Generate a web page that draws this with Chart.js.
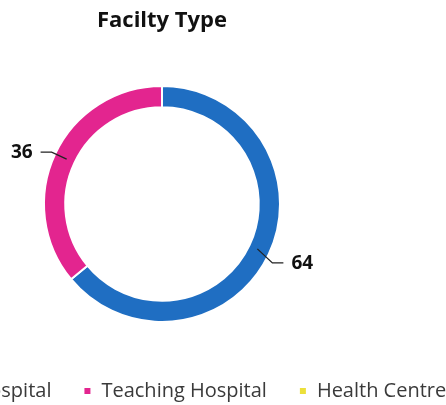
<!DOCTYPE html>
<html>
<head>
<meta charset="utf-8">
<script src="https://cdn.jsdelivr.net/npm/chart.js@4"></script>
<style>
html,body{margin:0;padding:0;background:#fff;overflow:hidden;width:446px;height:405px;}
#wrap{position:absolute;left:-188px;top:0;width:700px;height:405px;}
</style>
</head>
<body>
<div id="wrap"><canvas id="c"></canvas></div>
<script>
const categories = ["General Hospital", "Teaching Hospital", "Health Centre"];
const values = [64, 36, 0];
const colors = ["#1f6ec2", "#e3258f", "#ece03a"];
const chartTitle = "Facilty Type";

const leaderLabels = {
  id: 'leaderLabels',
  afterDatasetsDraw(chart) {
    const ctx = chart.ctx;
    const meta = chart.getDatasetMeta(0);
    ctx.save();
    meta.data.forEach((arc, i) => {
      const v = values[i];
      if (!v) return;
      const p = arc.getProps(['x','y','startAngle','endAngle','innerRadius','outerRadius'], true);
      const mid = (p.startAngle + p.endAngle) / 2;
      const cos = Math.cos(mid), sin = Math.sin(mid);
      const r0 = (p.innerRadius + p.outerRadius) / 2 - 2;
      const r1 = p.outerRadius + 4;
      const x0 = p.x + cos * r0, y0 = p.y + sin * r0;
      const x1 = p.x + cos * r1, y1 = p.y + sin * r1 + (sin > 0 ? 7 : 0);
      const dir = cos >= 0 ? 1 : -1;
      const x2 = x1 + dir * 11;
      ctx.strokeStyle = '#222';
      ctx.lineWidth = 1.3;
      ctx.beginPath();
      ctx.moveTo(x0, y0); ctx.lineTo(x1, y1); ctx.lineTo(x2, y1);
      ctx.stroke();
      ctx.fillStyle = '#111';
      ctx.font = 'bold 19px "Open Sans"';
      ctx.textBaseline = 'middle';
      ctx.textAlign = dir > 0 ? 'left' : 'right';
      ctx.fillText(String(v), x2 + dir * 8, y1 + 1);
    });
    ctx.restore();
  }
};

new Chart(document.getElementById('c'), {
  type: 'doughnut',
  data: {
    labels: categories,
    datasets: [{
      data: values,
      backgroundColor: colors,
      borderColor: '#ffffff',
      borderWidth: 2
    }]
  },
  options: {
    responsive: true,
    maintainAspectRatio: false,
    animation: false,
    radius: 118,
    cutout: '82%',
    layout: { padding: { top: 0, bottom: -6, left: 0, right: 0 } },
    plugins: {
      tooltip: { enabled: false },
      title: {
        display: true,
        text: chartTitle,
        color: '#111',
        font: { family: 'Open Sans', size: 22, weight: 'bold', lineHeight: 1.0 },
        padding: { top: 10, bottom: 27 }
      },
      legend: {
        position: 'bottom',
        labels: {
          color: '#3a3a3a',
          font: { family: 'Open Sans', size: 20 },
          boxWidth: 8,
          boxHeight: 8,
          padding: 32
        }
      }
    }
  },
  plugins: [leaderLabels]
});
</script>
</body>
</html>
